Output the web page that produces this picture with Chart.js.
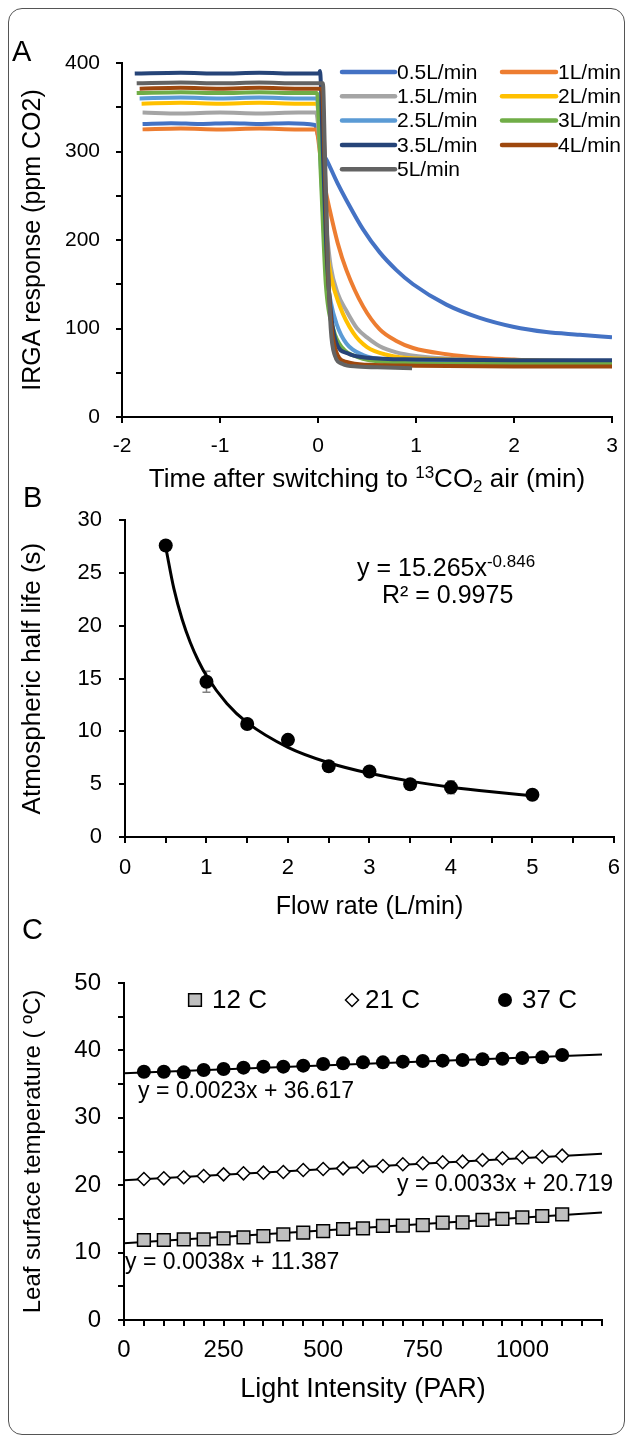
<!DOCTYPE html>
<html><head><meta charset="utf-8">
<script src="https://cdn.jsdelivr.net/npm/chart.js@4.4.0/dist/chart.umd.min.js"></script>
<style>
html,body{margin:0;padding:0;background:#fff;}
body{width:632px;height:1443px;position:relative;overflow:hidden;font-family:'Liberation Sans',Arial,sans-serif;}
.frame{position:absolute;left:8px;top:8px;width:615px;height:1425px;border:1px solid #555;border-radius:14px;}
.wrap{position:absolute;left:0;width:632px;}
.wrap canvas{display:block;}
.plab{position:absolute;font-size:29px;line-height:1;color:#000;}
</style></head><body>
<div class="frame"></div>
<div class="wrap" style="top:30px;height:470px"><canvas id="cA" width="632" height="470"></canvas></div>
<div class="wrap" style="top:490px;height:432px"><canvas id="cB" width="632" height="432"></canvas></div>
<div class="wrap" style="top:940px;height:466px"><canvas id="cC" width="632" height="466"></canvas></div>
<div class="plab" style="left:12px;top:37px">A</div>
<div class="plab" style="left:23px;top:483px">B</div>
<div class="plab" style="left:22px;top:915px">C</div>
<script>
// ================= DATA =================
// Panel A: IRGA response after switching (time in min, ppm CO2)
const seriesLabelsA = ['0.5L/min','1L/min','1.5L/min','2L/min','2.5L/min','3L/min','3.5L/min','4L/min','5L/min'];
const t05 = [-1.79,-1.5,-1.2,-0.9,-0.6,-0.3,-0.03,0.0,0.04,0.09,0.2,0.29,0.46,0.63,0.80,0.97,1.31,1.65,1.99,2.33,2.67,3.0];
const v05 = [331,332,331,332,331,332,330,318,300,290,264,245,212,186,166,150,127,112,102,96,93,90];
const t10 = [-1.79,-1.4,-1.0,-0.6,-0.2,-0.02,0.03,0.08,0.12,0.2,0.29,0.46,0.63,0.8,0.97,1.31,1.65,2.0,2.5,3.0];
const v10 = [325,326,325,326,325,325,290,255,234,197,166,125,99,86,78,71,67,65,62,61];
const t15 = [-1.79,-1.4,-1.0,-0.6,-0.2,-0.02,0.03,0.08,0.13,0.2,0.29,0.4,0.5,0.63,0.8,1.0,1.5,2.0,3.0];
const v15 = [344,343,344,343,344,344,290,220,170,140,120,100,90,80,73,69,65,64,63];
const t20 = [-1.80,-1.4,-1.0,-0.6,-0.2,-0.01,0.03,0.08,0.13,0.22,0.36,0.5,0.71,1.0,2.0,3.0];
const v20 = [354,355,354,355,354,354,290,200,160,126,95,79,70,66,64,63];
const t25 = [-1.82,-1.4,-1.0,-0.6,-0.2,-0.01,0.03,0.08,0.13,0.19,0.29,0.46,0.7,1.5,3.0];
const v25 = [360,361,360,361,360,360,280,170,130,105,83,70,65,63,63];
const t30 = [-1.85,-1.4,-1.0,-0.6,-0.2,-0.01,0.03,0.08,0.16,0.25,0.4,0.7,1.5,3.0];
const v30 = [366,367,366,367,366,366,270,150,98,78,68,62,60,60];
const t35 = [-1.87,-1.4,-1.0,-0.6,-0.2,0.01,0.02,0.05,0.09,0.14,0.19,0.3,0.5,1.0,2.0,3.0];
const v35 = [388,389,388,389,388,388,391,300,180,110,83,72,67,65,64,64];
const t40 = [-1.82,-1.4,-1.0,-0.6,-0.2,0.04,0.07,0.10,0.14,0.2,0.3,0.5,1.0,2.0,3.0];
const v40 = [371,372,371,372,371,371,280,170,100,70,62,59,58,57,57];
const t50 = [-1.85,-1.4,-1.0,-0.6,-0.2,0.05,0.07,0.10,0.13,0.17,0.25,0.4,0.7,0.96];
const v50 = [377,378,377,378,377,377,300,180,100,70,60,57,56,55];

// Panel B: atmospheric half life vs flow rate
const flowRates = [0.5,1,1.5,2,2.5,3,3.5,4,5];
const halfLife = [27.6,14.7,10.7,9.2,6.7,6.2,5.0,4.7,4.0];
const halfLifeErr = [0.4,1.0,0.2,0.2,0.2,0.2,0.2,0.6,0.2];
const fitFlow = [0.5,0.6,0.7,0.8,0.9,1,1.25,1.5,2,2.5,3,3.5,4,4.5,5];
const fitHalfLife = [27.44,23.52,20.64,18.44,16.69,15.27,12.64,10.83,8.49,7.03,6.03,5.29,4.72,4.28,3.91];

// Panel C: leaf surface temperature vs light intensity
const lightPAR = [50,100,150,200,250,300,350,400,450,500,550,600,650,700,750,800,850,900,950,1000,1050,1100];
const temp12 = [11.87,11.87,11.97,11.97,12.12,12.27,12.46,12.71,12.96,13.20,13.50,13.60,13.95,13.99,14.09,14.44,14.49,14.84,14.99,15.23,15.43,15.68];
const temp21 = [20.92,21.02,21.17,21.36,21.61,21.76,21.86,21.96,22.26,22.40,22.50,22.75,22.85,23.10,23.25,23.40,23.49,23.74,23.99,24.14,24.23,24.38];
const temp37 = [36.84,36.84,36.74,37.09,37.24,37.44,37.59,37.59,37.74,37.98,38.08,38.23,38.23,38.33,38.43,38.48,38.58,38.68,38.77,38.87,38.97,39.32];
const trendPAR = [0,1200];
const trend12 = [11.387,15.947];
const trend21 = [20.719,24.679];
const trend37 = [36.617,39.377];
const seriesLabelsC = ['12 C','21 C','37 C'];

// ================= STYLE =================
const FONT = "'Liberation Sans', Arial, Helvetica, sans-serif";
Chart.defaults.font.family = FONT;
Chart.defaults.color = '#000';
Chart.defaults.animation = false;
const colorsA = ['#4472C4','#ED7D31','#A5A5A5','#FFC000','#5B9BD5','#70AD47','#264478','#9E480E','#636363'];

function txt(ctx, s, x, y, size, align, base){
  ctx.save(); ctx.font = size + 'px ' + FONT; ctx.fillStyle = '#000';
  ctx.textAlign = align || 'left'; ctx.textBaseline = base || 'middle';
  ctx.fillText(s, x, y); ctx.restore();
}
function richLine(ctx, pieces, cx, cy, align){
  ctx.save(); ctx.fillStyle = '#000'; ctx.textBaseline = 'alphabetic';
  let total = 0;
  pieces.forEach(p => { ctx.font = p[1] + 'px ' + FONT; total += ctx.measureText(p[0]).width; });
  let x = align === 'center' ? cx - total / 2 : cx;
  pieces.forEach(p => { ctx.font = p[1] + 'px ' + FONT; ctx.textAlign = 'left'; ctx.fillText(p[0], x, cy + p[2]); x += ctx.measureText(p[0]).width; });
  ctx.restore();
}
function axisCommon(){
  return {
    grid: {drawOnChartArea: false, drawTicks: true, tickLength: 6, color: '#000', lineWidth: 2},
    border: {display: true, color: '#000', width: 2}
  };
}

// ================= PANEL A =================
const tA = [t05,t10,t15,t20,t25,t30,t35,t40,t50];
const vA = [v05,v10,v15,v20,v25,v30,v35,v40,v50];
const legendA = {id: 'legendA', afterDraw(chart){
  const ctx = chart.ctx;
  chart.data.datasets.forEach((ds, i) => {
    const col = i % 2, row = Math.floor(i / 2);
    const y = 42 + row * 24.3;
    const x0 = col ? 502 : 342, x1 = col ? 556 : 395;
    ctx.save(); ctx.strokeStyle = ds.borderColor; ctx.lineWidth = 4.5; ctx.lineCap = 'round';
    ctx.beginPath(); ctx.moveTo(x0, y); ctx.lineTo(x1, y); ctx.stroke(); ctx.restore();
    txt(ctx, ds.label, x1 + 2, y + 1, 21);
  });
  const a = chart.chartArea;
  richLine(chart.ctx, [['Time after switching to ',26,0],['13',17,-9],['CO',26,0],['2',17,5],[' air (min)',26,0]], (a.left + a.right) / 2, 457, 'center');
}};
new Chart(document.getElementById('cA'), {
  type: 'line',
  data: {datasets: seriesLabelsA.map((lab, i) => ({
    label: lab,
    data: tA[i].map((t, k) => ({x: t, y: vA[i][k]})),
    borderColor: colorsA[i], backgroundColor: colorsA[i], borderWidth: 4,
    pointRadius: 0, cubicInterpolationMode: 'monotone', fill: false, order: 9 - i
  }))},
  options: {
    responsive: false, animation: false, events: [],
    layout: {padding: {top: 33, right: 20, bottom: 0, left: 0}},
    plugins: {legend: {display: false}, tooltip: {enabled: false}},
    scales: {
      x: Object.assign(axisCommon(), {type: 'linear', min: -2, max: 3,
        ticks: {stepSize: 1, autoSkip: false, maxRotation: 0, padding: 11, font: {size: 21}},
        title: {display: false}, afterFit(s){ s.height = 83; }}),
      y: Object.assign(axisCommon(), {type: 'linear', min: 0, max: 400,
        ticks: {stepSize: 50, autoSkip: false, padding: 16, font: {size: 21}, callback: v => (v % 100 === 0 ? v : '')},
        title: {display: true, text: 'IRGA response (ppm CO2)', font: {size: 25}, padding: {top: 18, bottom: 0}},
        afterFit(s){ s.width = 122; }})
    }
  },
  plugins: [legendA]
});

// ================= PANEL B =================
const annB = {id: 'annB',
  beforeDatasetsDraw(chart){
    const ctx = chart.ctx, xs = chart.scales.x, ys = chart.scales.y;
    ctx.save(); ctx.strokeStyle = '#7f7f7f'; ctx.lineWidth = 1.5;
    flowRates.forEach((f, i) => {
      const x = xs.getPixelForValue(f);
      const y1 = ys.getPixelForValue(halfLife[i] - halfLifeErr[i]);
      const y2 = ys.getPixelForValue(halfLife[i] + halfLifeErr[i]);
      ctx.beginPath(); ctx.moveTo(x, y1); ctx.lineTo(x, y2);
      ctx.moveTo(x - 4, y1); ctx.lineTo(x + 4, y1);
      ctx.moveTo(x - 4, y2); ctx.lineTo(x + 4, y2); ctx.stroke();
    });
    ctx.restore();
  },
  afterDraw(chart){
    const ctx = chart.ctx;
    richLine(ctx, [['y = 15.265x',25,0],['-0.846',17,-9]], 357, 86, 'left');
    txt(ctx, 'R\u00B2 = 0.9975', 382, 106, 25);
  }
};
new Chart(document.getElementById('cB'), {
  type: 'scatter',
  data: {datasets: [
    {label: 'half life', data: flowRates.map((f, i) => ({x: f, y: halfLife[i]})),
     pointRadius: 7, pointBackgroundColor: '#000', pointBorderColor: '#000', pointBorderWidth: 0, order: 0},
    {label: 'fit', data: fitFlow.map((f, i) => ({x: f, y: fitHalfLife[i]})), showLine: true,
     borderColor: '#000', borderWidth: 3, pointRadius: 0, cubicInterpolationMode: 'monotone', order: 1}
  ]},
  options: {
    responsive: false, animation: false, events: [],
    layout: {padding: {top: 19, right: 7, bottom: 0, left: 0}},
    plugins: {legend: {display: false}, tooltip: {enabled: false}},
    scales: {
      x: Object.assign(axisCommon(), {type: 'linear', min: 0, max: 6,
        ticks: {stepSize: 0.5, autoSkip: false, maxRotation: 0, padding: 12, font: {size: 22}, callback: v => (Number.isInteger(v) ? v : '')},
        title: {display: true, text: 'Flow rate (L/min)', font: {size: 25}, padding: {top: 0, bottom: 0}},
        afterFit(s){ s.height = 85; }}),
      y: Object.assign(axisCommon(), {type: 'linear', min: 0, max: 30,
        ticks: {stepSize: 5, autoSkip: false, padding: 17, font: {size: 22}},
        title: {display: true, text: 'Atmospheric half life (s)', font: {size: 26}, padding: {top: 17, bottom: 0}},
        afterFit(s){ s.width = 125; }})
    }
  },
  plugins: [annB]
});

// ================= PANEL C =================
const annC = {id: 'annC', afterDraw(chart){
  const ctx = chart.ctx;
  const items = [[195, 212], [352, 365], [505, 522]];
  chart.data.datasets.slice(0, 3).forEach((ds, i) => {
    const st = {pointStyle: ds.pointStyle, radius: ds.pointRadius, borderWidth: ds.pointBorderWidth, rotation: 0};
    ctx.save(); ctx.fillStyle = ds.pointBackgroundColor; ctx.strokeStyle = ds.pointBorderColor; ctx.lineWidth = ds.pointBorderWidth;
    Chart.helpers.drawPoint(ctx, st, items[i][0], 60);
    ctx.restore();
    txt(ctx, ds.label, items[i][1], 61, 26);
  });
  txt(ctx, 'y = 0.0023x + 36.617', 138, 152, 23);
  txt(ctx, 'y = 0.0033x + 20.719', 397, 245, 23);
  txt(ctx, 'y = 0.0038x + 11.387', 125, 323, 23);
}};
new Chart(document.getElementById('cC'), {
  type: 'scatter',
  data: {datasets: [
    {label: seriesLabelsC[0], data: lightPAR.map((x, i) => ({x, y: temp12[i]})), pointStyle: 'rect', pointRadius: 9,
     pointBackgroundColor: '#BFBFBF', pointBorderColor: '#000', pointBorderWidth: 1.5, order: 0},
    {label: seriesLabelsC[1], data: lightPAR.map((x, i) => ({x, y: temp21[i]})), pointStyle: 'rectRot', pointRadius: 6.5,
     pointBackgroundColor: '#fff', pointBorderColor: '#000', pointBorderWidth: 1.5, order: 0},
    {label: seriesLabelsC[2], data: lightPAR.map((x, i) => ({x, y: temp37[i]})), pointStyle: 'circle', pointRadius: 7,
     pointBackgroundColor: '#000', pointBorderColor: '#000', pointBorderWidth: 0, order: 0},
    {label: 'trend 12', data: trendPAR.map((x, i) => ({x, y: trend12[i]})), showLine: true, borderColor: '#000', borderWidth: 2, pointRadius: 0, order: 1},
    {label: 'trend 21', data: trendPAR.map((x, i) => ({x, y: trend21[i]})), showLine: true, borderColor: '#000', borderWidth: 2, pointRadius: 0, order: 1},
    {label: 'trend 37', data: trendPAR.map((x, i) => ({x, y: trend37[i]})), showLine: true, borderColor: '#000', borderWidth: 2, pointRadius: 0, order: 1}
  ]},
  options: {
    responsive: false, animation: false, events: [],
    layout: {padding: {top: 43, right: 30, bottom: 0, left: 0}},
    plugins: {legend: {display: false}, tooltip: {enabled: false}},
    scales: {
      x: Object.assign(axisCommon(), {type: 'linear', min: 0, max: 1200,
        ticks: {stepSize: 50, autoSkip: false, maxRotation: 0, padding: 10, font: {size: 24}, callback: v => (v % 250 === 0 ? v : '')},
        title: {display: true, text: 'Light Intensity (PAR)', font: {size: 27}, padding: {top: 0, bottom: 0}},
        afterFit(s){ s.height = 86; }}),
      y: Object.assign(axisCommon(), {type: 'linear', min: 0, max: 50,
        ticks: {stepSize: 5, autoSkip: false, padding: 17, font: {size: 24}, callback: v => (v % 10 === 0 ? v : '')},
        title: {display: true, text: 'Leaf surface temperature ( \u00BAC)', font: {size: 24}, padding: {top: 19, bottom: 0}},
        afterFit(s){ s.width = 124; }})
    }
  },
  plugins: [annC]
});
</script>
</body></html>
